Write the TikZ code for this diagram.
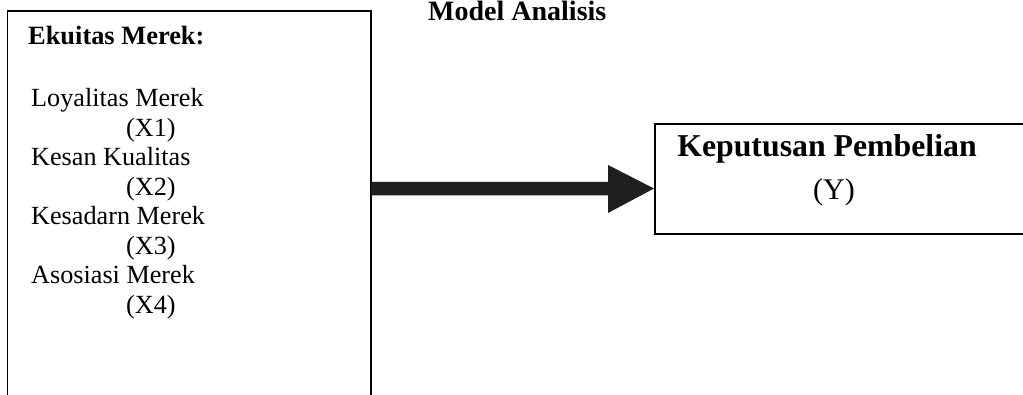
\documentclass[tikz,border=0pt]{standalone}
\usepackage{fontspec}
\setmainfont{Liberation Serif}
\begin{document}
\begin{tikzpicture}[x=1pt,y=-1pt,
  boxline/.style={line width=1.7pt, black},
  lbl/.style={anchor=base west, inner sep=0pt, font=\fontsize{26.2}{30}\selectfont},
  hdr/.style={anchor=base west, inner sep=0pt, font=\bfseries\fontsize{26.4}{30}\selectfont},
  rtxt/.style={anchor=base, inner sep=0pt, font=\bfseries\fontsize{31.8}{34}\selectfont},
  arrowfill/.style={fill=black!88}]
\useasboundingbox (0,0) rectangle (1023,395);
\fill[white] (0,0) rectangle (1023,395);
% left box (open at the bottom)
\coordinate (lbl) at (7.5,400);
\coordinate (ltl) at (7.5,11);
\coordinate (ltr) at (371,11);
\coordinate (lbr) at (371,400);
\draw[boxline] (lbl) -- (ltl) -- (ltr) -- (lbr);
% right box (open at the right)
\coordinate (rtr) at (1030,124);
\coordinate (rtl) at (655,124);
\coordinate (rbl) at (655,234);
\coordinate (rbr) at (1030,234);
\draw[boxline] (rtr) -- (rtl) -- (rbl) -- (rbr);
% title
\node[anchor=base west, inner sep=0pt, font=\bfseries\fontsize{28}{30}\selectfont] (title) at (428,20.5) {Model Analisis};
% left box texts
\node[hdr] (ek) at (28,45) {Ekuitas Merek:};
\node[lbl] (t1) at (31,107) {Loyalitas Merek};
\node[lbl] (x1) at (126,136.5) {(X1)};
\node[lbl] (t2) at (31,166) {Kesan Kualitas};
\node[lbl] (x2) at (126,195.5) {(X2)};
\node[lbl] (t3) at (31,225) {Kesadarn Merek};
\node[lbl] (x3) at (126,254.5) {(X3)};
\node[lbl] (t4) at (31,284) {Asosiasi Merek};
\node[lbl] (x4) at (126,313.5) {(X4)};
% right box texts
\node[rtxt] (kp) at (827,157) {Keputusan Pembelian};
\node[anchor=base, inner sep=0pt, font=\fontsize{30}{32}\selectfont] (y) at (834,200) {(Y)};
% block arrow from left box to right box
\coordinate (as) at (371,188.5);
\coordinate (ae) at (654,188.5);
\fill[arrowfill] (as) ++(0,-6.5) -- ++(237,0) -- ++(0,-17) -- (ae)
  -- ++(-46,24.5) -- ++(0,-17.5) -- ++(-237,0) -- cycle;
\end{tikzpicture}
\end{document}
